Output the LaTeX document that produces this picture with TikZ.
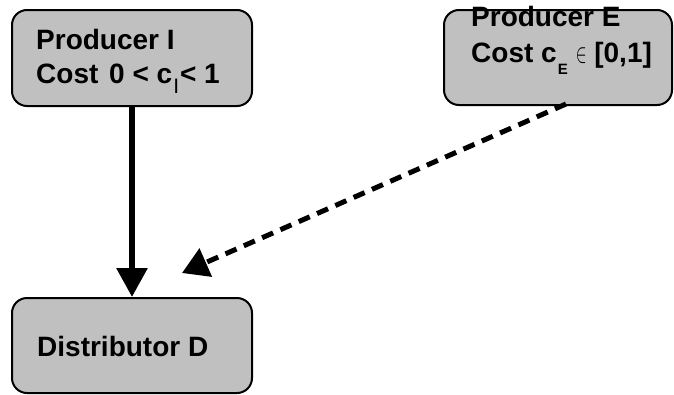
\documentclass[tikz,border=0pt]{standalone}
\usepackage{fontspec}
\setmainfont{Liberation Sans}
\usetikzlibrary{arrows.meta}
\definecolor{boxgray}{RGB}{192,192,192}
\tikzset{
  x=1pt,y=-1pt,
  box/.style={draw=black,line width=2pt,fill=boxgray,rounded corners=15pt,inner sep=0pt},
  lbl/.style={anchor=base west,inner sep=0pt,font=\fontsize{28}{30}\selectfont\bfseries},
  solidarrow/.style={line width=6pt,-{Triangle[length=29pt,width=30pt]}},
  dasharrow/.style={line width=5pt,dash pattern=on 12pt off 8pt,-{Triangle[length=26pt,width=30pt]}}
}
\newcommand{\subl}[3]{\raisebox{#2}{\fontsize{#1}{#1}\selectfont #3}}
\begin{document}
\begin{tikzpicture}
\useasboundingbox (0,0) rectangle (674,394);
\node[box,minimum width=240pt,minimum height=96pt] (pi) at (132,58) {};
\node[box,minimum width=228pt,minimum height=95pt] (pe) at (558,57.5) {};
\node[box,minimum width=240pt,minimum height=95pt] (dd) at (132,345.5) {};
\node[lbl] (ti1) at (36,49) {Producer I};
\node[lbl] (ti2) at (36,83) {Cost\ \kern3pt0 < c\kern1pt\subl{21}{-10pt}{\mdseries I}\kern1pt< 1};
\node[lbl] (te1) at (471,26) {Producer E};
\node[lbl] (te2) at (471,62) {Cost c\kern1pt\subl{15}{-12pt}{E}\kern8pt{\normalfont\scalebox{0.65}[1.1]{$\in$}}\ [0,1]};
\node[lbl] (td) at (37,356) {Distributor D};
\coordinate (estart) at (566,104);
\coordinate (eend) at (182,273);
\draw[solidarrow] (pi.south) -- (dd.north);
\draw[dasharrow] (estart) -- (eend);
\end{tikzpicture}
\end{document}
